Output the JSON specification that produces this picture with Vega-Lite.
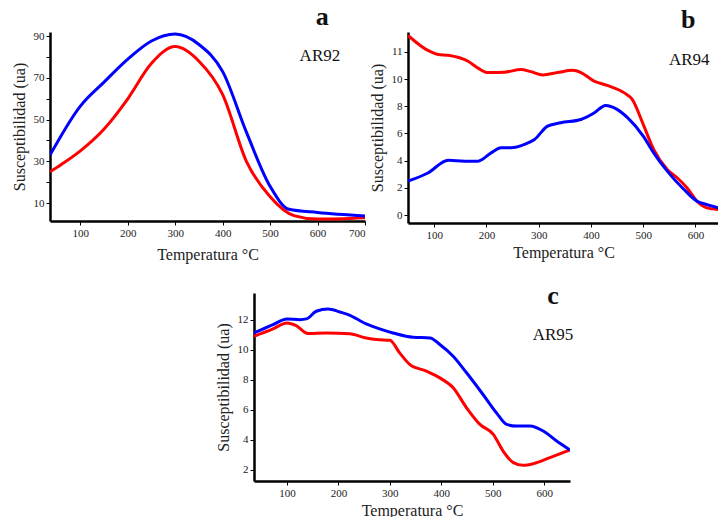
{
  "$schema": "https://vega.github.io/schema/vega-lite/v6.json",
  "background": "white",
  "padding": {"left": 11, "top": 4, "right": 0, "bottom": 0},
  "config": {
    "view": {"stroke": null},
    "font": "Liberation Serif",
    "axis": {
      "grid": false,
      "domainColor": "black",
      "domainWidth": 2.5,
      "tickColor": "black",
      "tickWidth": 1,
      "tickSize": 4,
      "labelOverlap": false,
      "labelFont": "Liberation Serif",
      "labelFontSize": 11,
      "labelColor": "#222",
      "titleFont": "Liberation Serif",
      "titleFontSize": 16,
      "titleFontWeight": "normal",
      "titleColor": "#222"
    },
    "line": {"strokeWidth": 3, "interpolate": "monotone"}
  },
  "datasets": {
    "a": [
      {"T": 36, "chi": 25, "serie": "R"}, {"T": 60, "chi": 28.5, "serie": "R"}, {"T": 100, "chi": 35, "serie": "R"}, {"T": 150, "chi": 45.5, "serie": "R"},
      {"T": 200, "chi": 60, "serie": "R"}, {"T": 250, "chi": 77, "serie": "R"}, {"T": 300, "chi": 85, "serie": "R"}, {"T": 350, "chi": 78, "serie": "R"},
      {"T": 400, "chi": 62, "serie": "R"}, {"T": 450, "chi": 30, "serie": "R"}, {"T": 500, "chi": 13, "serie": "R"}, {"T": 550, "chi": 4, "serie": "R"},
      {"T": 600, "chi": 2.3, "serie": "R"}, {"T": 700, "chi": 3, "serie": "R"},
      {"T": 36, "chi": 33, "serie": "B"}, {"T": 100, "chi": 56.5, "serie": "B"}, {"T": 150, "chi": 68, "serie": "B"}, {"T": 200, "chi": 79, "serie": "B"},
      {"T": 250, "chi": 87.7, "serie": "B"}, {"T": 300, "chi": 91, "serie": "B"}, {"T": 350, "chi": 86, "serie": "B"}, {"T": 400, "chi": 73, "serie": "B"},
      {"T": 450, "chi": 44, "serie": "B"}, {"T": 500, "chi": 18, "serie": "B"}, {"T": 540, "chi": 7, "serie": "B"}, {"T": 600, "chi": 5.5, "serie": "B"},
      {"T": 700, "chi": 3.8, "serie": "B"}
    ],
    "b": [
      {"T": 50, "chi": 13.2, "serie": "R"}, {"T": 88, "chi": 12.1, "serie": "R"}, {"T": 108, "chi": 11.8, "serie": "R"}, {"T": 127, "chi": 11.74, "serie": "R"},
      {"T": 165, "chi": 11.3, "serie": "R"}, {"T": 184, "chi": 10.8, "serie": "R"}, {"T": 203, "chi": 10.47, "serie": "R"}, {"T": 235, "chi": 10.5, "serie": "R"},
      {"T": 266, "chi": 10.7, "serie": "R"}, {"T": 285, "chi": 10.54, "serie": "R"}, {"T": 308, "chi": 10.3, "serie": "R"}, {"T": 336, "chi": 10.47, "serie": "R"},
      {"T": 365, "chi": 10.64, "serie": "R"}, {"T": 381, "chi": 10.47, "serie": "R"}, {"T": 406, "chi": 9.85, "serie": "R"}, {"T": 431, "chi": 9.53, "serie": "R"},
      {"T": 463, "chi": 9.0, "serie": "R"}, {"T": 479, "chi": 8.5, "serie": "R"}, {"T": 500, "chi": 6.67, "serie": "R"}, {"T": 520, "chi": 4.83, "serie": "R"},
      {"T": 546, "chi": 3.36, "serie": "R"}, {"T": 565, "chi": 2.75, "serie": "R"}, {"T": 584, "chi": 2.0, "serie": "R"}, {"T": 603, "chi": 1.03, "serie": "R"},
      {"T": 622, "chi": 0.54, "serie": "R"}, {"T": 644, "chi": 0.42, "serie": "R"},
      {"T": 50, "chi": 2.5, "serie": "B"}, {"T": 88, "chi": 3.1, "serie": "B"}, {"T": 127, "chi": 4.04, "serie": "B"}, {"T": 158, "chi": 3.97, "serie": "B"},
      {"T": 184, "chi": 3.97, "serie": "B"}, {"T": 209, "chi": 4.58, "serie": "B"}, {"T": 228, "chi": 4.95, "serie": "B"}, {"T": 247, "chi": 4.95, "serie": "B"},
      {"T": 273, "chi": 5.2, "serie": "B"}, {"T": 292, "chi": 5.56, "serie": "B"}, {"T": 317, "chi": 6.54, "serie": "B"}, {"T": 342, "chi": 6.79, "serie": "B"},
      {"T": 381, "chi": 7.03, "serie": "B"}, {"T": 406, "chi": 7.5, "serie": "B"}, {"T": 428, "chi": 8.06, "serie": "B"}, {"T": 450, "chi": 7.77, "serie": "B"},
      {"T": 470, "chi": 7.16, "serie": "B"}, {"T": 500, "chi": 5.81, "serie": "B"}, {"T": 520, "chi": 4.58, "serie": "B"}, {"T": 546, "chi": 3.24, "serie": "B"},
      {"T": 578, "chi": 1.89, "serie": "B"}, {"T": 603, "chi": 1.03, "serie": "B"}, {"T": 622, "chi": 0.78, "serie": "B"}, {"T": 644, "chi": 0.54, "serie": "B"}
    ],
    "c": [
      {"T": 36, "chi": 10.91, "serie": "R"}, {"T": 73, "chi": 11.4, "serie": "R"}, {"T": 100, "chi": 11.8, "serie": "R"}, {"T": 118, "chi": 11.62, "serie": "R"},
      {"T": 141, "chi": 11.09, "serie": "R"}, {"T": 177, "chi": 11.13, "serie": "R"}, {"T": 222, "chi": 11.07, "serie": "R"}, {"T": 254, "chi": 10.8, "serie": "R"},
      {"T": 274, "chi": 10.69, "serie": "R"}, {"T": 300, "chi": 10.64, "serie": "R"}, {"T": 319, "chi": 9.8, "serie": "R"}, {"T": 339, "chi": 9.02, "serie": "R"},
      {"T": 371, "chi": 8.58, "serie": "R"}, {"T": 397, "chi": 8.13, "serie": "R"}, {"T": 423, "chi": 7.47, "serie": "R"}, {"T": 449, "chi": 6.13, "serie": "R"},
      {"T": 475, "chi": 5.02, "serie": "R"}, {"T": 501, "chi": 4.36, "serie": "R"}, {"T": 520, "chi": 3.24, "serie": "R"}, {"T": 540, "chi": 2.47, "serie": "R"},
      {"T": 559, "chi": 2.29, "serie": "R"}, {"T": 579, "chi": 2.4, "serie": "R"}, {"T": 611, "chi": 2.8, "serie": "R"}, {"T": 650, "chi": 3.31, "serie": "R"},
      {"T": 36, "chi": 11.13, "serie": "B"}, {"T": 73, "chi": 11.69, "serie": "B"}, {"T": 100, "chi": 12.07, "serie": "B"}, {"T": 125, "chi": 12.02, "serie": "B"},
      {"T": 138, "chi": 12.07, "serie": "B"}, {"T": 157, "chi": 12.58, "serie": "B"}, {"T": 180, "chi": 12.73, "serie": "B"}, {"T": 203, "chi": 12.53, "serie": "B"},
      {"T": 219, "chi": 12.36, "serie": "B"}, {"T": 254, "chi": 11.73, "serie": "B"}, {"T": 280, "chi": 11.4, "serie": "B"}, {"T": 306, "chi": 11.13, "serie": "B"},
      {"T": 345, "chi": 10.84, "serie": "B"}, {"T": 378, "chi": 10.8, "serie": "B"}, {"T": 397, "chi": 10.36, "serie": "B"}, {"T": 423, "chi": 9.58, "serie": "B"},
      {"T": 449, "chi": 8.47, "serie": "B"}, {"T": 481, "chi": 7.02, "serie": "B"}, {"T": 507, "chi": 5.8, "serie": "B"}, {"T": 527, "chi": 5.02, "serie": "B"},
      {"T": 546, "chi": 4.91, "serie": "B"}, {"T": 572, "chi": 4.91, "serie": "B"}, {"T": 598, "chi": 4.58, "serie": "B"}, {"T": 624, "chi": 3.91, "serie": "B"},
      {"T": 650, "chi": 3.31, "serie": "B"}
    ],
    "labels": [
      {"panel": "a", "letter": "a", "name": "AR92"},
      {"panel": "b", "letter": "b", "name": "AR94"},
      {"panel": "c", "letter": "c", "name": "AR95"}
    ]
  },
  "vconcat": [
    {
      "spacing": 3,
      "hconcat": [
        {
          "width": 315, "height": 189,
          "resolve": {"axis": {"x": "independent", "y": "independent"}},
          "layer": [
            {
              "data": {"name": "a"},
              "transform": [{"filter": "datum.serie == 'R'"}],
              "mark": {"type": "line", "color": "#ff0000", "clip": true},
              "encoding": {
                "x": {"field": "T", "type": "quantitative", "scale": {"domain": [36, 700], "nice": false, "zero": false},
                      "axis": {"values": [100, 200, 300, 400, 500, 600, 700], "labelOverlap": false, "title": "Temperatura °C", "titlePadding": 8}},
                "y": {"field": "chi", "type": "quantitative", "scale": {"domain": [1.4, 92], "nice": false, "zero": false},
                      "axis": {"values": [10, 20, 30, 40, 50, 60, 70, 80, 90], "labelOverlap": false, "labelExpr": "datum.value % 20 == 10 ? datum.label : ''", "title": "Susceptibilidad (ua)", "titlePadding": 6}}
              }
            },
            {
              "data": {"name": "a"},
              "transform": [{"filter": "datum.serie == 'B'"}],
              "mark": {"type": "line", "color": "#0000ff", "clip": true},
              "encoding": {"x": {"field": "T", "type": "quantitative", "axis": null}, "y": {"field": "chi", "type": "quantitative", "axis": null}}
            },
            {
              "data": {"name": "labels"},
              "transform": [{"filter": "datum.panel == 'a'"}],
              "mark": {"type": "text", "font": "Liberation Serif", "fontSize": 26, "fontWeight": "bold", "color": "#111"},
              "encoding": {"x": {"datum": 610, "axis": null}, "y": {"datum": 99, "axis": null}, "text": {"field": "letter"}}
            },
            {
              "data": {"name": "labels"},
              "transform": [{"filter": "datum.panel == 'a'"}],
              "mark": {"type": "text", "font": "Liberation Serif", "fontSize": 17, "color": "#111"},
              "encoding": {"x": {"datum": 605, "axis": null}, "y": {"datum": 80.5, "axis": null}, "text": {"field": "name"}}
            }
          ]
        },
        {
          "width": 311, "height": 191,
          "resolve": {"axis": {"x": "independent", "y": "independent"}},
          "layer": [
            {
              "data": {"name": "b"},
              "transform": [{"filter": "datum.serie == 'R'"}],
              "mark": {"type": "line", "color": "#ff0000", "clip": true},
              "encoding": {
                "x": {"field": "T", "type": "quantitative", "scale": {"domain": [50, 645], "nice": false, "zero": false},
                      "axis": {"values": [100, 200, 300, 400, 500, 600], "labelOverlap": false, "title": "Temperatura °C", "titlePadding": 4}},
                "y": {"field": "chi", "type": "quantitative", "scale": {"domain": [-0.57, 13.45], "nice": false, "zero": false},
                      "axis": {"values": [0, 2, 4, 6, 8, 10, 12], "labelOverlap": false, "labelExpr": "datum.value == 12 ? '11' : datum.label", "title": "Susceptibilidad (ua)", "titlePadding": 6}}
              }
            },
            {
              "data": {"name": "b"},
              "transform": [{"filter": "datum.serie == 'B'"}],
              "mark": {"type": "line", "color": "#0000ff", "clip": true},
              "encoding": {"x": {"field": "T", "type": "quantitative", "axis": null}, "y": {"field": "chi", "type": "quantitative", "axis": null}}
            },
            {
              "data": {"name": "labels"},
              "transform": [{"filter": "datum.panel == 'b'"}],
              "mark": {"type": "text", "font": "Liberation Serif", "fontSize": 26, "fontWeight": "bold", "color": "#111"},
              "encoding": {"x": {"datum": 586, "axis": null}, "y": {"datum": 14.3, "axis": null}, "text": {"field": "letter"}}
            },
            {
              "data": {"name": "labels"},
              "transform": [{"filter": "datum.panel == 'b'"}],
              "mark": {"type": "text", "font": "Liberation Serif", "fontSize": 17, "color": "#111"},
              "encoding": {"x": {"datum": 588, "axis": null}, "y": {"datum": 11.4, "axis": null}, "text": {"field": "name"}}
            }
          ]
        }
      ]
    },
    {
      "spacing": 0,
      "hconcat": [
        {
          "width": 165, "height": 188,
          "data": {"values": [{"s": ""}]},
          "mark": {"type": "text"},
          "encoding": {"text": {"field": "s"}}
        },
        {
          "width": 316, "height": 188,
          "resolve": {"axis": {"x": "independent", "y": "independent"}},
          "layer": [
            {
              "data": {"name": "c"},
              "transform": [{"filter": "datum.serie == 'R'"}],
              "mark": {"type": "line", "color": "#ff0000", "clip": true},
              "encoding": {
                "x": {"field": "T", "type": "quantitative", "scale": {"domain": [36, 650], "nice": false, "zero": false},
                      "axis": {"values": [100, 200, 300, 400, 500, 600], "labelOverlap": false, "title": "Temperatura °C", "titlePadding": 4}},
                "y": {"field": "chi", "type": "quantitative", "scale": {"domain": [1.24, 13.8], "nice": false, "zero": false},
                      "axis": {"values": [2, 4, 6, 8, 10, 12], "labelOverlap": false, "title": "Susceptibilidad (ua)", "titlePadding": 6}}
              }
            },
            {
              "data": {"name": "c"},
              "transform": [{"filter": "datum.serie == 'B'"}],
              "mark": {"type": "line", "color": "#0000ff", "clip": true},
              "encoding": {"x": {"field": "T", "type": "quantitative", "axis": null}, "y": {"field": "chi", "type": "quantitative", "axis": null}}
            },
            {
              "data": {"name": "labels"},
              "transform": [{"filter": "datum.panel == 'c'"}],
              "mark": {"type": "text", "font": "Liberation Serif", "fontSize": 26, "fontWeight": "bold", "color": "#111"},
              "encoding": {"x": {"datum": 617, "axis": null}, "y": {"datum": 13.6, "axis": null}, "text": {"field": "letter"}}
            },
            {
              "data": {"name": "labels"},
              "transform": [{"filter": "datum.panel == 'c'"}],
              "mark": {"type": "text", "font": "Liberation Serif", "fontSize": 17, "color": "#111"},
              "encoding": {"x": {"datum": 617, "axis": null}, "y": {"datum": 11, "axis": null}, "text": {"field": "name"}}
            }
          ]
        }
      ]
    }
  ],
  "spacing": 20
}
